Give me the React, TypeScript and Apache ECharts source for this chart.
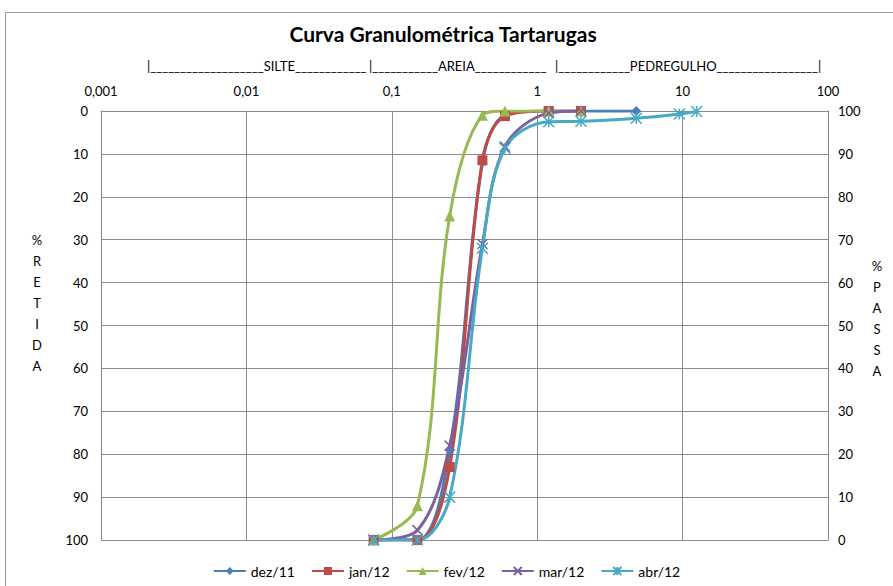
import React, { useEffect, useRef } from "react";
import * as echarts from "echarts";

const sieves = [0.075, 0.15, 0.25, 0.42, 0.6, 1.2, 2.0, 4.8, 9.5, 12.5];
const dez11 = [100, 100, 79, 12, 1, 0, 0, 0];
const jan12 = [100, 100, 83, 11.5, 1.2, 0, 0];
const fev12 = [100, 92, 24.5, 1, 0, 0, 0];
const mar12 = [100, 97.7, 78, 31, 8.3, 0.5, 0];
const abr12 = [100, 100, 90, 32, 8.7, 2.5, 2.4, 1.7, 0.7, 0.1];

const xTicks = [0.001, 0.01, 0.1, 1, 10, 100];
const xTickLabels = ["0,001", "0,01", "0,1", "1", "10", "100"];

const seriesNames = ["dez/11", "jan/12", "fev/12", "mar/12", "abr/12"];
const colors = ["#4A7EBB", "#BE4B48", "#98B954", "#7D60A0", "#46AAC5"];

const FONT = "Lato, 'Open Sans', sans-serif";

const symX = "path://M0,0L10,10M10,0L0,10";
const symStar = "path://M5,0L5,10M0,0L10,10M10,0L0,10";

const u = (n: number) => "_".repeat(n);
const rangeTexts = [
  { x: 147, text: "|" + u(19) + "SILTE" + u(12) },
  { x: 369, text: "|" + u(11) + "AREIA" + u(12) },
  { x: 555, text: "|" + u(12) + "PEDREGULHO" + u(17) + "|" },
];

export default function App() {
  const ref = useRef<HTMLDivElement>(null);
  useEffect(() => {
    if (!ref.current) return;
    const chart = echarts.init(ref.current, undefined, { renderer: "svg" });
    const datasets = [dez11, jan12, fev12, mar12, abr12];
    const symbols = ["diamond", "rect", "triangle", symX, symStar];
    const sizes = [10, 10, 11, 10, 11];
    const series = datasets.map((d, i) => ({
      name: seriesNames[i],
      type: "line",
      smooth: 0.35,
      data: d.map((v, j) => [sieves[j], v]),
      symbol: symbols[i],
      symbolSize: sizes[i],
      showSymbol: true,
      lineStyle: { width: 3, color: colors[i] },
      itemStyle: { color: colors[i], borderColor: colors[i], borderWidth: i >= 3 ? 1.5 : 0 },
      emphasis: { disabled: true },
    }));
    const labelFmt = (v: number) => {
      for (let k = 0; k < xTicks.length; k++) {
        if (Math.abs(Math.log10(v) - Math.log10(xTicks[k])) < 1e-6) return xTickLabels[k];
      }
      return "";
    };
    chart.setOption({
      animation: false,
      textStyle: { fontFamily: FONT },
      grid: { left: 101, right: 65, top: 111, bottom: 46, containLabel: false },
      xAxis: {
        type: "log",
        logBase: 10,
        min: 0.001,
        max: 100,
        position: "top",
        axisLine: { show: true, lineStyle: { color: "#888" } },
        axisTick: { show: false },
        axisLabel: { formatter: labelFmt, color: "#000", fontSize: 13, margin: 14, fontFamily: FONT },
        splitLine: { show: true, lineStyle: { color: "#8c8c8c", width: 1 } },
        minorSplitLine: { show: false },
      },
      yAxis: [
        {
          type: "value",
          inverse: true,
          min: 0,
          max: 100,
          interval: 10,
          position: "left",
          axisLine: { show: true, lineStyle: { color: "#888" } },
          axisTick: { show: false },
          axisLabel: { color: "#000", fontSize: 13, margin: 13, fontFamily: FONT },
          splitLine: { show: true, lineStyle: { color: "#8c8c8c", width: 1 } },
        },
        {
          type: "value",
          min: 0,
          max: 100,
          interval: 10,
          position: "right",
          axisLine: { show: true, lineStyle: { color: "#888" } },
          axisTick: { show: false },
          axisLabel: { color: "#000", fontSize: 13, margin: 10, fontFamily: FONT },
          splitLine: { show: false },
        },
      ],
      legend: {
        bottom: 3,
        left: "center",
        itemWidth: 32,
        itemHeight: 10,
        itemGap: 16,
        textStyle: { color: "#000", fontSize: 14, fontFamily: FONT },
        data: seriesNames,
      },
      graphic: [
        {
          type: "rect",
          shape: { x: 5.5, y: 12.5, width: 900, height: 600 },
          style: { fill: "none", stroke: "#9a9a9a", lineWidth: 1 },
          silent: true,
        },
        {
          type: "text",
          x: 443,
          y: 33,
          style: {
            text: "Curva Granulométrica Tartarugas",
            fontSize: 21,
            fontWeight: "bold",
            fontFamily: FONT,
            fill: "#000",
            align: "center",
            verticalAlign: "middle",
          },
        },
        ...rangeTexts.map((r) => ({
          type: "text",
          x: r.x,
          y: 66,
          style: {
            text: r.text,
            fontSize: 13,
            fontFamily: FONT,
            fill: "#000",
            align: "left",
            verticalAlign: "middle",
          },
        })),
        {
          type: "text",
          x: 37,
          y: 303,
          style: {
            text: "%\nR\nE\nT\nI\nD\nA",
            fontSize: 13,
            lineHeight: 21,
            fontFamily: FONT,
            fill: "#000",
            align: "center",
            verticalAlign: "middle",
          },
        },
        {
          type: "text",
          x: 877,
          y: 318,
          style: {
            text: "%\nP\nA\nS\nS\nA",
            fontSize: 13,
            lineHeight: 21,
            fontFamily: FONT,
            fill: "#000",
            align: "center",
            verticalAlign: "middle",
          },
        },
      ],
      series,
    });
    return () => chart.dispose();
  }, []);
  return (
    <div
      ref={ref}
      style={{ position: "fixed", left: 0, top: 0, width: 893, height: 586, background: "#fff" }}
    />
  );
}
